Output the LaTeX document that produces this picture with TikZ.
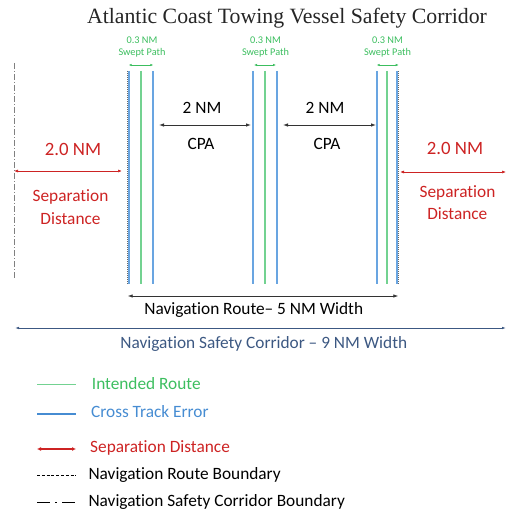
\documentclass[tikz,border=0pt]{standalone}
\usepackage{fontspec}
\setmainfont{Carlito}[Ligatures=NoCommon]
\newfontfamily\titlefont{Liberation Serif}
\usetikzlibrary{arrows.meta}
\definecolor{routegreen}{RGB}{60,190,95}
\definecolor{linegreen}{RGB}{115,210,145}
\definecolor{xteblue}{RGB}{70,140,210}
\definecolor{lineblue}{RGB}{105,165,225}
\definecolor{sepred}{RGB}{205,35,35}
\definecolor{corrblue}{RGB}{60,88,130}
\begin{document}
\begin{tikzpicture}[x=1pt,y=-1pt,
  txt/.style={inner sep=0pt,font=\fontsize{17.3}{20}\selectfont},
  small/.style={inner sep=0pt,font=\fontsize{10.3}{12}\selectfont,text=routegreen},
  gline/.style={draw=linegreen,line width=1.3pt},
  bline/.style={draw=lineblue,line width=1.3pt},
  bdash/.style={draw=black!60,line width=0.7pt,dash pattern=on 1.2pt off 0.8pt},
  cdash/.style={draw=gray,line width=0.8pt,dash pattern=on 6pt off 2pt on 1pt off 2pt},
  swept/.style={draw=routegreen,line width=0.7pt,{Latex[length=3pt,width=2.5pt]}-{Latex[length=3pt,width=2.5pt]}},
  cpa/.style={draw=black!80,line width=0.8pt,{Latex[length=5pt,width=3.5pt]}-{Latex[length=5pt,width=3.5pt]}},
  sep/.style={draw=sepred,line width=0.7pt,{Latex[length=4pt,width=3pt]}-{Latex[length=4pt,width=3pt]}},
  corr/.style={draw=corrblue,line width=0.7pt,{Latex[length=4pt,width=2.5pt]}-{Latex[length=4pt,width=2.5pt]}}]
\useasboundingbox (0,0) rectangle (506,510);

% title
\node[inner sep=0pt,anchor=base,text=black!85,font=\titlefont\fontsize{21.8}{24}\selectfont] (title) at (287,24) {Atlantic Coast Towing Vessel Safety Corridor};

% corridor boundary (left)
\coordinate (cbT) at (14,63); \coordinate (cbB) at (14,278);
\draw[cdash] (cbT) -- (cbB);

% lane lines
\coordinate (aT) at (129,71); \coordinate (aB) at (129,284);
\coordinate (bT) at (141,71); \coordinate (bB) at (141,284);
\coordinate (cT) at (153,71); \coordinate (cB) at (153,284);
\coordinate (dT) at (253,71); \coordinate (dB) at (253,284);
\coordinate (eT) at (265,71); \coordinate (eB) at (265,284);
\coordinate (fT) at (277,71); \coordinate (fB) at (277,284);
\coordinate (gT) at (377,71); \coordinate (gB) at (377,284);
\coordinate (hT) at (387,71); \coordinate (hB) at (387,284);
\coordinate (iT) at (397,71); \coordinate (iB) at (397,284);
\draw[bline] (aT) -- (aB);
\draw[gline] (bT) -- (bB);
\draw[bline] (cT) -- (cB);
\draw[bline] (dT) -- (dB);
\draw[gline] (eT) -- (eB);
\draw[bline] (fT) -- (fB);
\draw[bline] (gT) -- (gB);
\draw[gline] (hT) -- (hB);
\draw[bline] (iT) -- (iB);
\coordinate (lbT) at (127.5,71); \coordinate (lbB) at (127.5,284);
\coordinate (rbT) at (398.5,71); \coordinate (rbB) at (398.5,284);
\draw[bdash] (lbT) -- (lbB);
\draw[bdash] (rbT) -- (rbB);

% swept path labels and arrows
\node[small,anchor=base] (sp1a) at (142,43.3) {0.3 NM};
\node[small,anchor=base] (sp1b) at (142,56) {Swept Path};
\node[small,anchor=base] (sp2a) at (265.5,43.3) {0.3 NM};
\node[small,anchor=base] (sp2b) at (265.5,56) {Swept Path};
\node[small,anchor=base] (sp3a) at (387.5,43.3) {0.3 NM};
\node[small,anchor=base] (sp3b) at (387.5,56) {Swept Path};
\coordinate (sw1L) at (128.7,65); \coordinate (sw1R) at (153.3,65);
\coordinate (sw2L) at (254,65); \coordinate (sw2R) at (276,65);
\coordinate (sw3L) at (376.7,65); \coordinate (sw3R) at (398.7,65);
\draw[swept] (sw1L) -- (sw1R);
\draw[swept] (sw2L) -- (sw2R);
\draw[swept] (sw3L) -- (sw3R);

% CPA
\coordinate (cpa1L) at (159,125); \coordinate (cpa1R) at (251,125);
\coordinate (cpa2L) at (283,125); \coordinate (cpa2R) at (376,125);
\draw[cpa] (cpa1L) -- (cpa1R);
\draw[cpa] (cpa2L) -- (cpa2R);
\node[txt,anchor=base] (nm1) at (202,114) {2 NM};
\node[txt,anchor=base] (nm2) at (325,114) {2 NM};
\node[txt,anchor=base] (cpat1) at (201,150) {CPA};
\node[txt,anchor=base] (cpat2) at (327,150) {CPA};

% separation distance
\coordinate (s1L) at (14,171); \coordinate (s1R) at (122,171);
\coordinate (s2L) at (400,172); \coordinate (s2R) at (506,172);
\draw[sep] (s1L) -- (s1R);
\draw[sep] (s2L) -- (s2R);
\node[txt,anchor=base,text=sepred,font=\fontsize{18.8}{20}\selectfont] (d1) at (73,156) {2.0 NM};
\node[txt,anchor=base,text=sepred] (sa1) at (70.5,202) {Separation};
\node[txt,anchor=base,text=sepred] (sb1) at (70.5,224.3) {Distance};
\node[txt,anchor=base,text=sepred,font=\fontsize{18.8}{20}\selectfont] (d2) at (455,155) {2.0 NM};
\node[txt,anchor=base,text=sepred] (sa2) at (457.5,197.3) {Separation};
\node[txt,anchor=base,text=sepred] (sb2) at (457.3,220) {Distance};

% navigation route width
\coordinate (nrL) at (127.7,296); \coordinate (nrR) at (398.3,296);
\draw[cpa] (nrL) -- (nrR);
\node[txt,anchor=base] (nrt) at (253.8,314.3) {Navigation Route– 5 NM Width};

% corridor width
\coordinate (ncL) at (15,328); \coordinate (ncR) at (506,328);
\draw[corr] (ncL) -- (ncR);
\node[txt,anchor=base,text=corrblue] (nct) at (263.8,348.3) {Navigation Safety Corridor – 9 NM Width};

% legend
\coordinate (l1a) at (37,384.3); \coordinate (l1b) at (76,384.3);
\draw[draw=linegreen,line width=1.2pt] (l1a) -- (l1b);
\node[txt,anchor=base west,text=routegreen] (lt1) at (91.7,389.3) {Intended Route};
\coordinate (l2a) at (37,414); \coordinate (l2b) at (76,414);
\draw[draw=xteblue,line width=1.2pt] (l2a) -- (l2b);
\node[txt,anchor=base west,text=xteblue] (lt2) at (91,417.7) {Cross Track Error};
\coordinate (l3a) at (37,449); \coordinate (l3b) at (76,449);
\draw[draw=sepred,line width=1.4pt,{Latex[length=4pt,width=4pt]}-{Latex[length=4pt,width=4pt]}] (l3a) -- (l3b);
\node[txt,anchor=base west,text=sepred] (lt3) at (90,452.7) {Separation Distance};
\coordinate (l4a) at (37,475.7); \coordinate (l4b) at (76,475.7);
\draw[draw=black,line width=1pt,dash pattern=on 3pt off 1.8pt] (l4a) -- (l4b);
\node[txt,anchor=base west] (lt4) at (88.3,479.3) {Navigation Route Boundary};
\coordinate (l5a) at (37,502.5); \coordinate (l5b) at (76,502.5);
\draw[draw=black,line width=1pt,dash pattern=on 13pt off 5pt on 2pt off 5pt] (l5a) -- (l5b);
\node[txt,anchor=base west] (lt5) at (88.3,506) {Navigation Safety Corridor Boundary};
\end{tikzpicture}
\end{document}
